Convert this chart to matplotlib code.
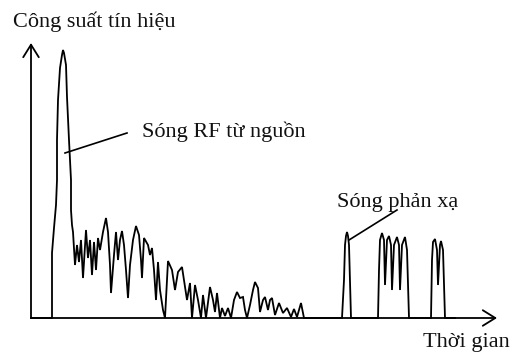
import matplotlib
matplotlib.use('Agg')
import matplotlib.pyplot as plt

plt.rcParams['font.family'] = ['Liberation Serif', 'DejaVu Serif']

# signal trace (time, power), arbitrary units
time = [0, 21, 21, 23, 25, 26, 26, 27, 29, 31, 32, 33, 35, 36, 38, 40, 40, 41,
        42, 44, 46, 48, 50, 52, 55, 57, 59, 61, 63, 65, 67, 69, 72, 75, 77, 79,
        80, 83, 85, 87, 89, 91, 93, 95, 97, 99, 102, 105, 108, 110, 111, 113,
        117, 119, 121, 123, 125, 127, 129, 132, 134, 137, 141, 144, 147, 151,
        153, 156, 159, 161, 164, 167, 170, 172, 175, 179, 182, 184, 186, 189,
        191, 194, 197, 200, 203, 206, 209, 212, 214, 216, 219, 222, 224, 227,
        229, 232, 234, 237, 239, 241, 244, 248, 252, 256, 260, 263, 266, 270,
        273,
        311, 313, 314, 315, 316, 317, 318, 319, 320,
        347, 348, 349, 351, 353, 354, 356, 358, 360, 361, 363, 366, 368, 369,
        371, 374, 376, 378,
        400, 401, 402, 404, 406, 407, 409, 410, 412, 414, 424]
power = [0, 0, 65, 90, 113, 138, 178, 218, 250, 263, 268, 265, 253, 221, 178,
         138, 108, 93,
         86, 53, 73, 56, 78, 40, 88, 60, 78, 43, 76, 48, 80, 68, 86, 100, 86,
         53, 25, 63, 86, 58, 78, 87, 73, 48, 20, 53, 78, 92, 83, 58, 40, 80,
         73, 63, 70, 48, 18, 56, 28, 8, 0, 57, 48, 28, 46, 51,
         38, 18, 35, 0, 33, 18, 0, 23, 0, 31, 18, 6, 25, 0,
         10, 2, 10, 0, 18, 26, 20, 21, 8, 0, 13, 28, 36, 30,
         6, 18, 21, 8, 18, 20, 3, 15, 5, 10, 1, 9, 1, 15,
         0,
         0, 38, 73, 82, 86, 82, 73, 38, 0,
         0, 48, 78, 85, 78, 33, 78, 82, 73, 28, 73, 81, 73, 28,
         73, 81, 68, 0,
         0, 58, 76, 79, 68, 33, 73, 77, 68, 0, 0]

title = 'Công suất tín hiệu'
xlabel = 'Thời gian'
label_rf = 'Sóng RF từ nguồn'
label_refl = 'Sóng phản xạ'

fig = plt.figure(figsize=(5.16, 3.52), dpi=100)
ax = fig.add_axes([0, 0, 1, 1])
ax.set_xlim(-31, 485)
ax.set_ylim(-34, 318)
ax.axis('off')

ax.plot(time, power, color='black', lw=1.3, solid_joinstyle='miter')

# axes drawn as arrows
arrow = dict(arrowstyle='->,head_length=0.45,head_width=0.28',
             color='black', lw=1.3, mutation_scale=20, shrinkA=0, shrinkB=0)
ax.annotate('', xy=(0, 275), xytext=(0, 0), arrowprops=arrow)
ax.annotate('', xy=(466, 0), xytext=(0, 0), arrowprops=arrow)

ax.text(-18, 291, title, fontsize=16, color='#111111', va='baseline')
ax.text(392, -29, xlabel, fontsize=16, color='#111111', va='baseline')

# callouts
ax.plot([34, 96], [165, 185], color='black', lw=1.2)
ax.text(111, 181, label_rf, fontsize=16, color='#111111', va='baseline')
ax.plot([318, 366], [78, 108], color='black', lw=1.2)
ax.text(306, 111, label_refl, fontsize=16, color='#111111', va='baseline')

fig.savefig('out.png', dpi=100)
